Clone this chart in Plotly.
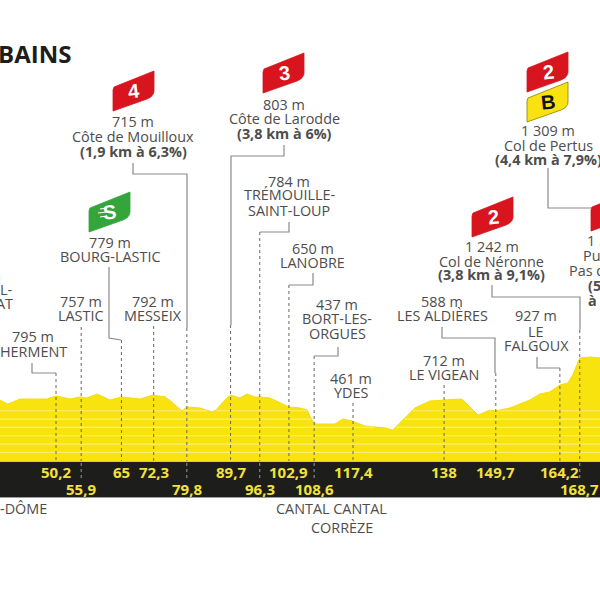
import numpy as np
import plotly.graph_objects as go

# ---------- data ----------
PROFILE_KM = [37.5, 39.3, 42.1, 48.2, 50.2, 53.4, 55.6, 57.2, 59.5, 62.4, 65, 69.2, 72.1, 74.9, 76.4, 78.7,
              79.8, 82.8, 85.5, 86.4, 88.4, 89.7, 91.8, 93.4, 95.2, 96.3, 98.6, 100.9, 102.9, 105.4, 107,
              108.1, 109, 113.3, 115.1, 117.2, 120.1, 124.6, 126.4, 131.4, 134.8, 141.6, 142.3, 145.7,
              148.4, 149.5, 152.9, 157.4, 159.7, 161.9, 164.2, 166, 167.1, 168.7, 171, 173.3]
PROFILE_M = [717, 668, 729, 729, 766, 729, 754, 742, 790, 717, 754, 729, 778, 754, 693, 583,
             632, 620, 571, 595, 717, 778, 742, 790, 754, 754, 742, 681, 632, 620, 595,
             473, 424, 424, 485, 461, 400, 376, 351, 620, 705, 729, 717, 534,
             595, 583, 620, 717, 790, 815, 900, 925, 1022, 1230, 1242, 1230]
STRIPE_LEVELS = [78, 180, 281, 383, 485, 586]

KM_ROW1 = ["50,2", "65", "72,3", "89,7", "102,9", "117,4", "138", "149,7", "164,2"]
KM_ROW1_X = [50.2, 65, 72.3, 89.7, 102.9, 117.4, 138, 149.7, 164.2]
KM_ROW2 = ["55,9", "79,8", "96,3", "108,6", "168,7"]
KM_ROW2_X = [55.9, 79.8, 96.3, 108.6, 168.7]

LABELS = [
    "715 m", "Côte de Mouilloux", "<b>(1,9 km à 6,3%)</b>",
    "803 m", "Côte de Larodde", "<b>(3,8 km à 6%)</b>",
    "784 m", "TRÉMOUILLE-", "SAINT-LOUP",
    "650 m", "LANOBRE",
    "437 m", "BORT-LES-", "ORGUES",
    "461 m", "YDES",
    "712 m", "LE VIGEAN",
    "588 m", "LES ALDIÈRES",
    "927 m", "LE", "FALGOUX",
    "1 242 m", "Col de Néronne", "<b>(3,8 km à 9,1%)</b>",
    "1 309 m", "Col de Pertus", "<b>(4,4 km à 7,9%)</b>",
    "779 m", "BOURG-LASTIC",
    "757 m", "LASTIC",
    "792 m", "MESSEIX",
    "795 m", "HERMENT",
    "CANTAL CANTAL", "CORRÈZE",
]
LABEL_POS = [
    (133, 121), (133, 136), (133, 151),
    (284, 104), (284, 118), (284, 133),
    (289, 181), (289, 195), (289, 210),
    (313, 248), (313, 262),
    (337, 304), (337, 318), (337, 333),
    (351, 378), (351, 392),
    (444, 360), (444, 374),
    (442, 301), (442, 315),
    (536, 316), (536, 331), (536, 345),
    (492, 247), (492, 261), (492, 275),
    (548, 130), (548, 145), (548, 159),
    (110, 242), (110, 256),
    (81, 301), (81, 315),
    (153, 301), (153, 315),
    (33, 336), (33, 351),
    (331, 508), (342, 527),
]
# labels cut by the picture's edges: text as visible, anchored side
EDGE_LEFT = ["n", "L-", "AT", "-DÔME"]
EDGE_LEFT_POS = [(3, 274), (15, 289), (15, 303), (49, 508)]
EDGE_RIGHT = ["1 5", "Puy", "Pas d", "<b>(5,</b>", "<b>à</b>"]
EDGE_RIGHT_POS = [(585, 240), (581, 255), (567, 270), (586, 285), (586, 300)]

# stems: km, dashed-start y, [solid polyline in px]
STEM_KM = [50.2, 55.9, 65, 72.3, 79.8, 89.7, 96.3, 102.9, 108.6, 117.4, 138, 149.7, 164.2, 168.7]
STEM_DASH_TOP = [373, 327, 340, 326, 328, 325, 232, 285, 356, 403, 385, 373, 368, 330]
STEM_SOLID = [
    [(32, 363), (32, 373), (56, 373)],
    [],
    [(109, 267), (109, 338), (121, 340)],
    [],
    [(133, 163), (133, 174), (187, 174), (187, 328)],
    [(284, 145), (284, 156), (231, 156), (231, 325)],
    [(289, 222), (289, 232), (260, 232)],
    [(313, 273), (313, 285), (289, 285)],
    [(338, 347), (338, 356), (314, 356)],
    [],
    [],
    [(442, 327), (442, 338), (495, 338), (495, 373)],
    [(537, 357), (537, 368), (560, 368)],
    [(492, 285), (492, 297), (580, 297), (580, 330)],
]
EXTRA_SOLID = [[(548, 168), (548, 208), (600, 208)]]
STEM_BAND_KM = [55.9, 79.8, 96.3, 108.6, 168.7]

# badges: text, left, top, colour
BADGES = [("4", 113, 71, "#D8141E", "white"), ("3", 263, 53, "#D8141E", "white"),
          ("S", 89, 192, "#33A53A", "white"),
          ("B", 527, 82, "#F8E311", "#111111"), ("2", 527, 52, "#D8141E", "white"),
          ("2", 472, 197, "#D8141E", "white"), ("", 591, 191, "#D8141E", "white")]

# ---------- scales ----------
W = H = 600
PX_PER_KM = 4.42
M_PER_PX = 12.2


def km_of(px):
    return 50.2 + (px - 56) / PX_PER_KM


def m_of(py):
    return (461 - py) * M_PER_PX - 27


def px_x(px):
    return px / W


def px_y(py):
    return 1 - py / H


GREY = "#4d4d4d"
LINE = "#8a8a8a"
LABEL_FONT = dict(family="Open Sans", size=14.4, color=GREY)

fig = go.Figure()
base = m_of(462)
fig.add_trace(go.Scatter(x=PROFILE_KM, y=[base] * len(PROFILE_KM), mode="lines", line=dict(width=0),
                         hoverinfo="skip", showlegend=False))
fig.add_trace(go.Scatter(x=PROFILE_KM, y=PROFILE_M, mode="lines", line=dict(color="#F3DC12", width=1),
                         fill="tonexty", fillcolor="#F8E30F", showlegend=False))

# contour stripes, kept inside the profile
grid = np.linspace(PROFILE_KM[0], PROFILE_KM[-1], 1500)
elev = np.interp(grid, PROFILE_KM, PROFILE_M)
for lev in STRIPE_LEVELS:
    xs = [g if e > lev + 6 else None for g, e in zip(grid, elev)]
    fig.add_trace(go.Scatter(x=xs, y=[lev] * len(xs), mode="lines", connectgaps=False,
                             line=dict(color="#FBEE78", width=1.2), showlegend=False, hoverinfo="skip"))

# black band
fig.add_shape(type="rect", xref="paper", yref="paper", x0=0, x1=1, y0=px_y(497), y1=px_y(462),
              fillcolor="#1D1D1B", line=dict(width=0), layer="above")
fig.add_shape(type="line", xref="paper", yref="paper", x0=0, x1=1, y0=px_y(497.5), y1=px_y(497.5),
              line=dict(color="#9a9a9a", width=1), layer="above")
fig.add_shape(type="line", xref="paper", yref="paper", x0=0, x1=1, y0=px_y(461.5), y1=px_y(461.5),
              line=dict(color="#E3CF1A", width=1), layer="above")

# stems
for km, top, solid in zip(STEM_KM, STEM_DASH_TOP, STEM_SOLID):
    fig.add_trace(go.Scatter(x=[km, km], y=[m_of(top), m_of(461)], mode="lines",
                             line=dict(color="#666666", width=1, dash="3px,3px"),
                             showlegend=False, hoverinfo="skip"))
    if solid:
        fig.add_trace(go.Scatter(x=[km_of(p[0]) for p in solid], y=[m_of(p[1]) for p in solid], mode="lines",
                                 line=dict(color=LINE, width=1.2), showlegend=False, hoverinfo="skip"))
for solid in EXTRA_SOLID:
    fig.add_trace(go.Scatter(x=[km_of(p[0]) for p in solid], y=[m_of(p[1]) for p in solid], mode="lines",
                             line=dict(color=LINE, width=1.2), showlegend=False, hoverinfo="skip"))
for km in STEM_BAND_KM:
    fig.add_shape(type="line", xref="x", yref="paper", x0=km, x1=km, y0=px_y(478), y1=px_y(463),
                  line=dict(color="#9a9a9a", width=1, dash="3px,3px"), layer="above")

# badges
for txt, left, top, col, fg in BADGES:
    pts = "M{} {} L{} {} L{} {} Q{} {} {} {} L{} {} L{} {} Z".format(
        px_x(left + 1), px_y(top + 16),
        px_x(left + 41), px_y(top),
        px_x(left + 41), px_y(top + 20),
        px_x(left + 41), px_y(top + 25), px_x(left + 34), px_y(top + 28),
        px_x(left), px_y(top + 40),
        px_x(left), px_y(top + 19))
    fig.add_shape(type="path", xref="paper", yref="paper", path=pts, fillcolor=col,
                  line=dict(color="#8a7f00" if txt == "B" else col, width=0.8), layer="above")
    if txt:
        fig.add_annotation(x=px_x(left + 21), y=px_y(top + 20), xref="paper", yref="paper", text=f"<b>{txt}</b>",
                           showarrow=False, textangle=-6, xanchor="center", yanchor="middle",
                           font=dict(family="Liberation Sans Narrow, Liberation Sans", size=20, color=fg))
    if txt == "S":
        for dy, l in ((-4, 7), (0, 9), (4, 7)):
            fig.add_shape(type="line", xref="paper", yref="paper", x0=px_x(left + 20 - l - 2),
                          x1=px_x(left + 18), y0=px_y(top + 21 + dy), y1=px_y(top + 21 + dy - 1),
                          line=dict(color="white", width=1.2), layer="above")

# text
for txt, (x, y) in zip(LABELS, LABEL_POS):
    fig.add_annotation(x=px_x(x), y=px_y(y), xref="paper", yref="paper", text=txt, showarrow=False,
                       xanchor="center", yanchor="middle", font=LABEL_FONT)
for txt, (x, y) in zip(EDGE_LEFT, EDGE_LEFT_POS):
    fig.add_annotation(x=px_x(x), y=px_y(y), xref="paper", yref="paper", xanchor="right", yanchor="middle",
                       text=txt, showarrow=False, font=LABEL_FONT)
for txt, (x, y) in zip(EDGE_RIGHT, EDGE_RIGHT_POS):
    fig.add_annotation(x=px_x(x), y=px_y(y), xref="paper", yref="paper", xanchor="left", yanchor="middle",
                       text=txt, showarrow=False, font=LABEL_FONT)
for t, k in zip(KM_ROW1, KM_ROW1_X):
    fig.add_annotation(x=k, y=px_y(472), xref="x", yref="paper", text=f"<b>{t}</b>", showarrow=False,
                       xanchor="center", yanchor="middle", font=dict(family="Open Sans", size=15, color="#F3E23C"))
for t, k in zip(KM_ROW2, KM_ROW2_X):
    fig.add_annotation(x=k, y=px_y(489), xref="x", yref="paper", text=f"<b>{t}</b>", showarrow=False,
                       xanchor="center", yanchor="middle", font=dict(family="Open Sans", size=15, color="#F3E23C"))
fig.add_annotation(x=px_x(73), y=px_y(53), xref="paper", yref="paper", xanchor="right", yanchor="middle",
                   text="<b>BAINS</b>", showarrow=False, font=dict(family="Open Sans", size=24, color="#1D1D1B"))

fig.update_layout(width=W, height=H, margin=dict(l=0, r=0, t=0, b=0), paper_bgcolor="white", plot_bgcolor="white",
                  showlegend=False,
                  xaxis=dict(range=[km_of(0), km_of(600)], visible=False, fixedrange=True),
                  yaxis=dict(range=[m_of(600), m_of(0)], visible=False, fixedrange=True))
fig.write_html("out.html", config={"displayModeBar": False},
               post_script="document.body.style.margin='0';")
